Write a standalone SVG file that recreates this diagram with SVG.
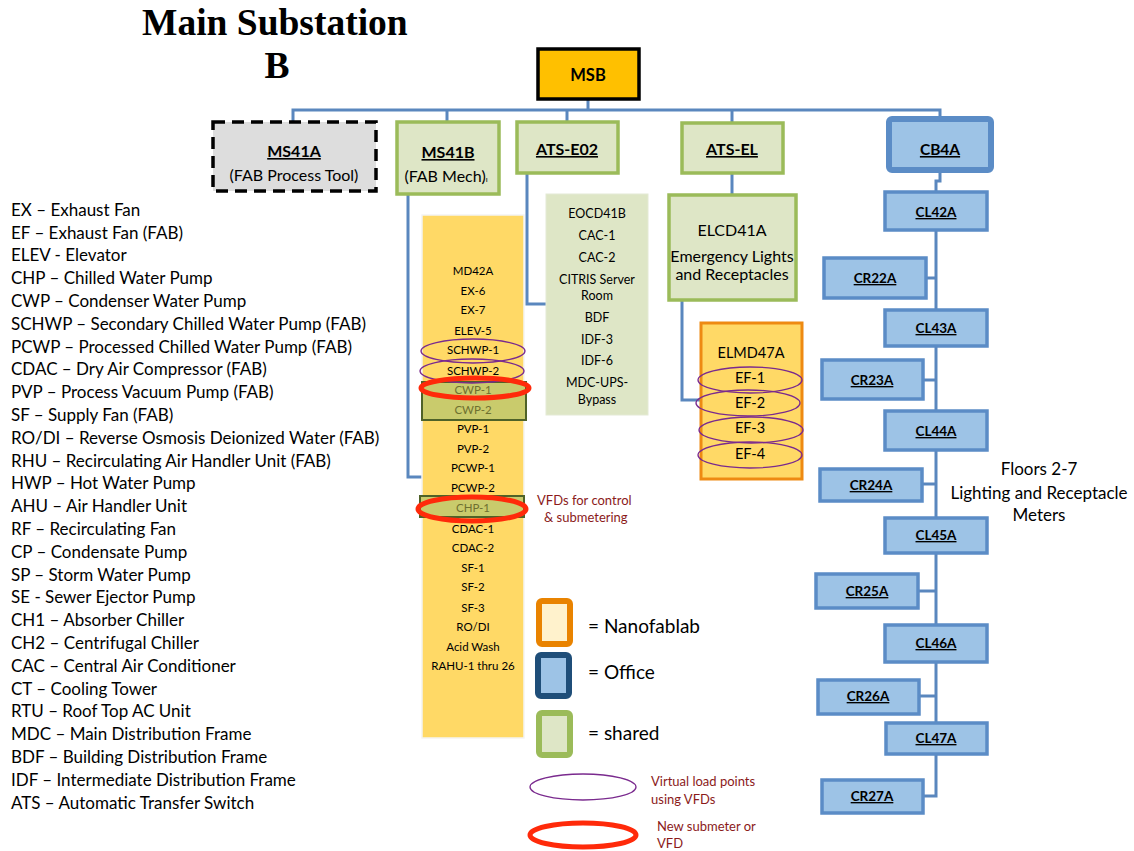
<svg xmlns="http://www.w3.org/2000/svg" width="1134" height="851" viewBox="0 0 1134 851">
<style>
text{font-family:Lato,"Liberation Sans",sans-serif;fill:#000}
.c{text-anchor:middle}
.b{font-weight:bold}
.u{text-decoration:underline}
.conn{fill:none;stroke:#5A87BE;stroke-width:3}
.green{fill:#DEE6C6;stroke:#9BBB59;stroke-width:3.5}
.blue{fill:#9DC3E6;stroke:#5B8CC6;stroke-width:3.5}
.item{font-size:11.5px;text-anchor:middle}
.lst{font-size:12.5px;text-anchor:middle}
.leg{font-size:17px}
.vp{fill:none;stroke:#7A2A8E;stroke-width:1.3}
.red{fill:none;stroke:#FF2A0A;stroke-width:5}
.dr{fill:#8B1A1A;font-size:13px}
.olive{fill:#C9CB6C;stroke:#4F6228;stroke-width:2}
</style>

<text x="142" y="35" style="font-family:'Liberation Serif',serif;font-weight:bold;font-size:37.5px">Main Substation</text>
<text x="277" y="78" class="c" style="font-family:'Liberation Serif',serif;font-weight:bold;font-size:37.5px">B</text>

<g id="connectors">
<path class="conn" d="M293,121 V110 H940 V117"/>
<path class="conn" d="M588,100 V110"/>
<path class="conn" d="M447,110 V121"/>
<path class="conn" d="M567,110 V121"/>
<path class="conn" d="M732,110 V122"/>
<path class="conn" d="M732,173 V194"/>
<path class="conn" d="M682,301 V400 H700"/>
<path class="conn" d="M527,173 V304 H546"/>
<path class="conn" d="M408,195 V477 H423"/>
<path class="conn" d="M940,171 V181 H936 V191"/>
<path class="conn" d="M936,231 V796 H924"/>
<path class="conn" d="M927,278 H936"/>
<path class="conn" d="M924,380 H936"/>
<path class="conn" d="M923,484 H936"/>
<path class="conn" d="M919,591 H936"/>
<path class="conn" d="M920,696 H936"/>
</g>

<g id="MSB">
<rect x="538" y="49" width="101" height="50" fill="#FFC000" stroke="#000" stroke-width="3.5"/>
<text x="588" y="81" class="c b" font-size="16.5">MSB</text>
</g>

<g id="MS41A">
<rect x="213" y="122" width="163" height="69" fill="#DDDDDD" stroke="#000" stroke-width="3.5" stroke-dasharray="12,7"/>
<text x="294" y="157" class="c b u" font-size="16">MS41A</text>
<text x="294" y="181" class="c" font-size="16">(FAB Process Tool)</text>
</g>

<g id="MS41B">
<rect x="397" y="122" width="102" height="72" class="green"/>
<text x="448" y="158" class="c b u" font-size="16">MS41B</text>
<text x="446" y="182" class="c" font-size="16">(FAB Mech)<tspan font-size="8">ı</tspan></text>
</g>

<g id="ATS-E02">
<rect x="517" y="122" width="101" height="51" class="green"/>
<text x="567" y="155" class="c b u" font-size="16">ATS-E02</text>
</g>

<g id="ATS-EL">
<rect x="682" y="123" width="101" height="50" class="green"/>
<text x="732" y="155" class="c b u" font-size="16">ATS-EL</text>
</g>

<g id="ATS-E02-list">
<rect x="546" y="194" width="102" height="221" fill="#DEE6C6" stroke="#E4EAD5" stroke-width="1"/>
<text class="lst" x="597" y="218">EOCD41B</text>
<text class="lst" x="597" y="240">CAC-1</text>
<text class="lst" x="597" y="262">CAC-2</text>
<text class="lst" x="597" y="284">CITRIS Server</text>
<text class="lst" x="597" y="300">Room</text>
<text class="lst" x="597" y="322">BDF</text>
<text class="lst" x="597" y="344">IDF-3</text>
<text class="lst" x="597" y="365">IDF-6</text>
<text class="lst" x="597" y="387">MDC-UPS-</text>
<text class="lst" x="597" y="404">Bypass</text>
</g>

<g id="ELCD41A">
<rect x="669" y="195" width="127" height="105" class="green"/>
<text x="732" y="236" class="c" font-size="16">ELCD41A</text>
<text x="732" y="262" class="c" font-size="16">Emergency Lights</text>
<text x="732" y="280" class="c" font-size="16">and Receptacles</text>
</g>

<g id="ELMD47A">
<rect x="701" y="323" width="101" height="156" fill="#FFD966" stroke="#EE8A12" stroke-width="3"/>
<text x="751" y="358" class="c" font-size="14.5">ELMD47A</text>
<text x="750" y="383" class="c" font-size="14.5">EF-1</text>
<text x="750" y="408" class="c" font-size="14.5">EF-2</text>
<text x="750" y="433" class="c" font-size="14.5">EF-3</text>
<text x="750" y="459" class="c" font-size="14.5">EF-4</text>
<ellipse class="vp" cx="750" cy="380" rx="52" ry="13"/>
<ellipse class="vp" cx="748" cy="403" rx="52" ry="13"/>
<ellipse class="vp" cx="751" cy="430" rx="52" ry="13"/>
<ellipse class="vp" cx="750" cy="455" rx="52" ry="13"/>
</g>

<g id="MS41B-list">
<rect x="422" y="215" width="102" height="523" fill="#FFD966" stroke="#F4F4F4" stroke-width="1.5"/>
<rect x="422" y="382" width="104" height="38" class="olive"/>
<rect x="420" y="496" width="104" height="21" class="olive"/>
<text class="item" x="473" y="275">MD42A</text>
<text class="item" x="473" y="295">EX-6</text>
<text class="item" x="473" y="314">EX-7</text>
<text class="item" x="473" y="335">ELEV-5</text>
<text class="item" x="473" y="354">SCHWP-1</text>
<text class="item" x="473" y="375">SCHWP-2</text>
<text class="item" x="473" y="394" style="fill:#6E7030">CWP-1</text>
<text class="item" x="473" y="414" style="fill:#6E7030">CWP-2</text>
<text class="item" x="473" y="433">PVP-1</text>
<text class="item" x="473" y="453">PVP-2</text>
<text class="item" x="473" y="472">PCWP-1</text>
<text class="item" x="473" y="492">PCWP-2</text>
<text class="item" x="473" y="512" style="fill:#6E7030">CHP-1</text>
<text class="item" x="473" y="533">CDAC-1</text>
<text class="item" x="473" y="552">CDAC-2</text>
<text class="item" x="473" y="572">SF-1</text>
<text class="item" x="473" y="591">SF-2</text>
<text class="item" x="473" y="612">SF-3</text>
<text class="item" x="473" y="631">RO/DI</text>
<text class="item" x="473" y="651">Acid Wash</text>
<text class="item" x="473" y="670">RAHU-1 thru 26</text>
<ellipse class="vp" cx="473" cy="351" rx="52" ry="12"/>
<ellipse class="vp" cx="472" cy="371" rx="52" ry="12"/>
<ellipse class="red" cx="475" cy="388" rx="54" ry="10"/>
<ellipse class="red" cx="472" cy="509" rx="54" ry="12"/>
</g>

<g id="vfd-note">
<text class="dr" x="537" y="505">VFDs for control</text>
<text class="dr" x="544" y="522">&amp; submetering</text>
</g>

<g id="CB4A">
<rect x="889" y="119" width="102" height="51" rx="3" fill="#9DC3E6" stroke="#5B8CC6" stroke-width="6"/>
<text x="940" y="155" class="c b u" font-size="15.5">CB4A</text>
</g>
<g id="CL42A"><rect x="885" y="192" width="102" height="38" class="blue"/><text x="936" y="217" class="c b u" font-size="13.5">CL42A</text></g>
<g id="CR22A"><rect x="824" y="258" width="102" height="40" class="blue"/><text x="875" y="283" class="c b u" font-size="13.5">CR22A</text></g>
<g id="CL43A"><rect x="885" y="310" width="102" height="36" class="blue"/><text x="936" y="333" class="c b u" font-size="13.5">CL43A</text></g>
<g id="CR23A"><rect x="822" y="360" width="101" height="39" class="blue"/><text x="872" y="385" class="c b u" font-size="13.5">CR23A</text></g>
<g id="CL44A"><rect x="885" y="411" width="102" height="39" class="blue"/><text x="936" y="436" class="c b u" font-size="13.5">CL44A</text></g>
<g id="CR24A"><rect x="820" y="469" width="102" height="32" class="blue"/><text x="871" y="490" class="c b u" font-size="13.5">CR24A</text></g>
<g id="CL45A"><rect x="885" y="518" width="102" height="35" class="blue"/><text x="936" y="540" class="c b u" font-size="13.5">CL45A</text></g>
<g id="CR25A"><rect x="816" y="574" width="102" height="34" class="blue"/><text x="867" y="596" class="c b u" font-size="13.5">CR25A</text></g>
<g id="CL46A"><rect x="885" y="625" width="102" height="37" class="blue"/><text x="936" y="648" class="c b u" font-size="13.5">CL46A</text></g>
<g id="CR26A"><rect x="818" y="680" width="101" height="34" class="blue"/><text x="868" y="701" class="c b u" font-size="13.5">CR26A</text></g>
<g id="CL47A"><rect x="886" y="723" width="101" height="31" class="blue"/><text x="936" y="743" class="c b u" font-size="13.5">CL47A</text></g>
<g id="CR27A"><rect x="822" y="780" width="101" height="33" class="blue"/><text x="872" y="801" class="c b u" font-size="13.5">CR27A</text></g>

<g id="floors-note">
<text x="1039" y="475" class="c" font-size="17">Floors 2-7</text>
<text x="1039" y="499" class="c" font-size="17">Lighting and Receptacle</text>
<text x="1039" y="521" class="c" font-size="17">Meters</text>
</g>

<g id="abbrev">
<text class="leg" x="11" y="216">EX – Exhaust Fan</text>
<text class="leg" x="11" y="239">EF – Exhaust Fan (FAB)</text>
<text class="leg" x="11" y="261">ELEV - Elevator</text>
<text class="leg" x="11" y="284">CHP – Chilled Water Pump</text>
<text class="leg" x="11" y="307">CWP – Condenser Water Pump</text>
<text class="leg" x="11" y="330">SCHWP – Secondary Chilled Water Pump (FAB)</text>
<text class="leg" x="11" y="353">PCWP – Processed Chilled Water Pump (FAB)</text>
<text class="leg" x="11" y="375">CDAC – Dry Air Compressor (FAB)</text>
<text class="leg" x="11" y="398">PVP – Process Vacuum Pump (FAB)</text>
<text class="leg" x="11" y="421">SF – Supply Fan (FAB)</text>
<text class="leg" x="11" y="444">RO/DI – Reverse Osmosis Deionized Water (FAB)</text>
<text class="leg" x="11" y="467">RHU – Recirculating Air Handler Unit (FAB)</text>
<text class="leg" x="11" y="489">HWP – Hot Water Pump</text>
<text class="leg" x="11" y="512">AHU – Air Handler Unit</text>
<text class="leg" x="11" y="535">RF – Recirculating Fan</text>
<text class="leg" x="11" y="558">CP – Condensate Pump</text>
<text class="leg" x="11" y="581">SP – Storm Water Pump</text>
<text class="leg" x="11" y="603">SE - Sewer Ejector Pump</text>
<text class="leg" x="11" y="626">CH1 – Absorber Chiller</text>
<text class="leg" x="11" y="649">CH2 – Centrifugal Chiller</text>
<text class="leg" x="11" y="672">CAC – Central Air Conditioner</text>
<text class="leg" x="11" y="695">CT – Cooling Tower</text>
<text class="leg" x="11" y="717">RTU – Roof Top AC Unit</text>
<text class="leg" x="11" y="740">MDC – Main Distribution Frame</text>
<text class="leg" x="11" y="763">BDF – Building Distribution Frame</text>
<text class="leg" x="11" y="786">IDF – Intermediate Distribution Frame</text>
<text class="leg" x="11" y="809">ATS – Automatic Transfer Switch</text>
</g>

<g id="legend">
<rect x="539" y="601" width="31" height="43" rx="3" fill="#FFF2CC" stroke="#E98300" stroke-width="6"/>
<text x="588" y="633" font-size="19">= Nanofablab</text>
<rect x="538" y="655" width="31" height="41" rx="3" fill="#9DC3E6" stroke="#1F4E79" stroke-width="6"/>
<text x="588" y="679" font-size="19">= Office</text>
<rect x="539" y="713" width="31" height="42" rx="3" fill="#DEE6C6" stroke="#9BBB59" stroke-width="6"/>
<text x="588" y="740" font-size="19">= shared</text>
<ellipse class="vp" cx="583" cy="787" rx="53" ry="13"/>
<text class="dr" x="651" y="786" font-size="12.5">Virtual load points</text>
<text class="dr" x="651" y="804" font-size="12.5">using VFDs</text>
<ellipse class="red" cx="583" cy="835" rx="53" ry="12"/>
<text class="dr" x="657" y="831" font-size="12.5">New submeter or</text>
<text class="dr" x="657" y="848" font-size="12.5">VFD</text>
</g>
</svg>
